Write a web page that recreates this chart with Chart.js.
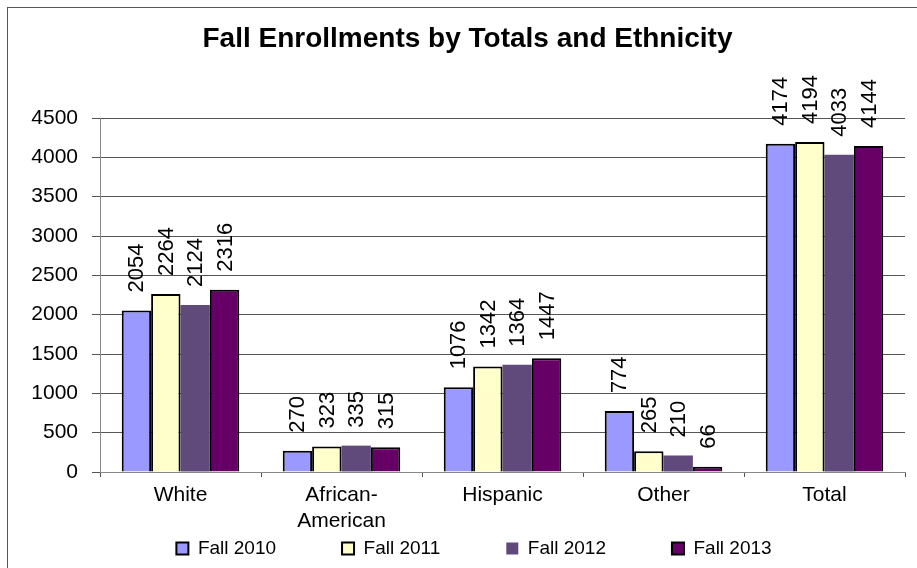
<!DOCTYPE html>
<html>
<head>
<meta charset="utf-8">
<title>Fall Enrollments by Totals and Ethnicity</title>
<script src="https://cdn.jsdelivr.net/npm/chart.js@4.4.1/dist/chart.umd.min.js"></script>
<style>
html, body { margin: 0; padding: 0; background: #fff; }
#enrollChart { display: block; }
</style>
</head>
<body>
<canvas id="enrollChart" width="917" height="568"></canvas>
<script>
// enrollment counts per group, one array per fall term
const categories = ['White', ['African-', 'American'], 'Hispanic', 'Other', 'Total'];
const fall2010 = [2054, 270, 1076, 774, 4174];
const fall2011 = [2264, 323, 1342, 265, 4194];
const fall2012 = [2124, 335, 1364, 210, 4033];
const fall2013 = [2316, 315, 1447, 66, 4144];
const yMax = 4500;
const yStep = 500;

Chart.defaults.font.family = '"Liberation Sans", Arial, sans-serif';
Chart.defaults.color = '#000';

// white background and the thin outer frame
const chartFrame = {
  id: 'chartFrame',
  beforeDraw(chart) {
    const ctx = chart.ctx;
    ctx.save();
    ctx.fillStyle = '#fff';
    ctx.fillRect(0, 0, chart.width, chart.height);
    ctx.strokeStyle = '#555';
    ctx.lineWidth = 1;
    ctx.strokeRect(7.5, 7.5, chart.width + 10, chart.height + 10);
    ctx.restore();
  }
};

// vertical value labels above each bar
const barValueLabels = {
  id: 'barValueLabels',
  afterDatasetsDraw(chart) {
    const ctx = chart.ctx;
    ctx.save();
    ctx.font = '22px "Liberation Sans", Arial, sans-serif';
    ctx.fillStyle = '#000';
    ctx.textAlign = 'left';
    ctx.textBaseline = 'middle';
    chart.data.datasets.forEach((ds, i) => {
      chart.getDatasetMeta(i).data.forEach((bar, j) => {
        ctx.save();
        ctx.translate(bar.x + 1, bar.y - 18);
        ctx.rotate(-Math.PI / 2);
        ctx.fillText(String(ds.data[j]), 0, 0);
        ctx.restore();
      });
    });
    ctx.restore();
  }
};

new Chart(document.getElementById('enrollChart'), {
  type: 'bar',
  data: {
    labels: categories,
    datasets: [
      { label: 'Fall 2010', data: fall2010, backgroundColor: '#9999FF', borderColor: '#000', borderWidth: 2 },
      { label: 'Fall 2011', data: fall2011, backgroundColor: '#FFFFCC', borderColor: '#000', borderWidth: 2 },
      { label: 'Fall 2012', data: fall2012, backgroundColor: '#5F4A7B', borderColor: '#5F4A7B', borderWidth: 0 },
      { label: 'Fall 2013', data: fall2013, backgroundColor: '#660066', borderColor: '#000', borderWidth: 2 }
    ]
  },
  options: {
    responsive: false,
    animation: false,
    categoryPercentage: 0.73,
    barPercentage: 1.0,
    layout: { padding: { left: 30, right: 12, top: 0, bottom: 0 } },
    plugins: {
      title: {
        display: true,
        text: 'Fall Enrollments by Totals and Ethnicity',
        font: { size: 28, weight: 'bold' },
        color: '#000',
        padding: { top: 22.2, bottom: 62.2 }
      },
      legend: {
        position: 'bottom',
        fullSize: false,
        labels: {
          boxWidth: 12,
          boxHeight: 12,
          padding: 9,
          font: { size: 19 },
          color: '#000',
          // wide gaps between the legend entries
          generateLabels(chart) {
            const items = Chart.defaults.plugins.legend.labels.generateLabels(chart);
            items.forEach(item => { item.text += '\u2003\u2003\u2003'; });
            return items;
          }
        }
      },
      tooltip: { enabled: false }
    },
    scales: {
      x: {
        afterFit(scale) { scale.height = 58; },
        grid: {
          offset: true,
          drawOnChartArea: false,
          tickLength: 5,
          color: '#555'
        },
        border: { color: '#888', width: 1 },
        ticks: { font: { size: 21 }, padding: 6, color: '#000' }
      },
      y: {
        min: 0,
        max: yMax,
        afterFit(scale) { scale.width = 70; },
        grid: { color: '#555', lineWidth: 1, tickLength: 8 },
        border: { color: '#888', width: 1 },
        ticks: {
          stepSize: yStep,
          font: { size: 21 },
          padding: 14,
          color: '#000',
          callback: value => String(value)
        }
      }
    }
  },
  plugins: [chartFrame, barValueLabels]
});
</script>
</body>
</html>
